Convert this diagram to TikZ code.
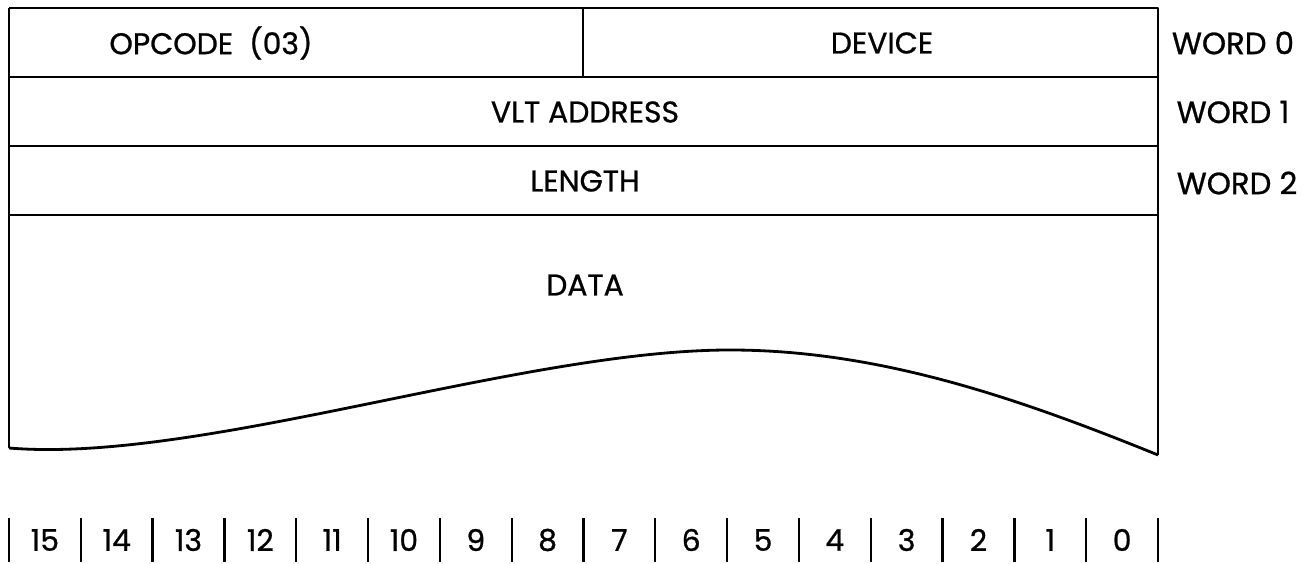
\documentclass[tikz,border=0pt]{standalone}
\usepackage{fontspec}
\setmainfont{Poppins}[FakeBold=0.8]
\usetikzlibrary{positioning,calc}
\tikzset{
  frameline/.style={
    line width=1.6pt,
    draw=black,
    line join=round
  },
  fieldlabel/.style={
    font=\fontsize{17}{20}\selectfont,
    text=black,
    inner sep=0pt,
    anchor=center
  },
  wordlabel/.style={
    fieldlabel,
    font=\fontsize{17.5}{20}\selectfont
  },
  bitlabel/.style={
    font=\fontsize{17}{20}\selectfont,
    inner sep=0pt
  },
  bittick/.style={
    line width=1.3pt,
    draw=black
  }
}

\begin{document}
\begin{tikzpicture}[x=0.02cm,y=0.02cm]

% Page size.
\useasboundingbox (0,0) rectangle (1312,564);

% Corners of the record frame.
\coordinate (tl) at (9,556);
\coordinate (tr) at (1158,556);
\coordinate (midtop) at (583,556);
\coordinate (row1l) at (9,487);
\coordinate (row1r) at (1158,487);
\coordinate (midbot) at (583,487);
\coordinate (row2l) at (9,418);
\coordinate (row2r) at (1158,418);
\coordinate (row3l) at (9,349);
\coordinate (row3r) at (1158,349);
\coordinate (datal) at (9,116);
\coordinate (datar) at (1158,109);
\coordinate (crest) at (730,214);

% Fixed words.
\draw[frameline] (tl) -- (tr) -- (datar);
\draw[frameline] (tl) -- (datal);
\draw[frameline] (midtop) -- (midbot);
\draw[frameline] (row1l) -- (row1r);
\draw[frameline] (row2l) -- (row2r);
\draw[frameline] (row3l) -- (row3r);

% Open end of the data area.
\draw[frameline] (datal) .. controls (200,100) and (520,214) .. (crest)
  .. controls (880,214) and (1020,165) .. (datar);

% Field texts.
\node[fieldlabel] (opcode) at (211,521) {OPCODE\ \ (03)};
\node[fieldlabel] (device) at (882,521) {DEVICE};
\node[fieldlabel] (vlt) at (585,452) {VLT ADDRESS};
\node[fieldlabel] (length) at (585,383) {LENGTH};
\node[fieldlabel] (data) at (585,279) {DATA};

% Word numbers.
\node[wordlabel] (word0) at (1233,521) {WORD 0};
\node[wordlabel] (word1) at (1233,452) {WORD 1};
\node[wordlabel] (word2) at (1237,381) {WORD 2};

% Bit ruler.
\foreach \i in {0,...,16}
  \draw[bittick] ({9+\i*71.8125},2) -- ({9+\i*71.8125},46);
\foreach \b [count=\i from 0] in {15,14,...,0}
  \node[bitlabel] (bit\b) at ({44.9+\i*71.8125},24) {\b};

\end{tikzpicture}
\end{document}
